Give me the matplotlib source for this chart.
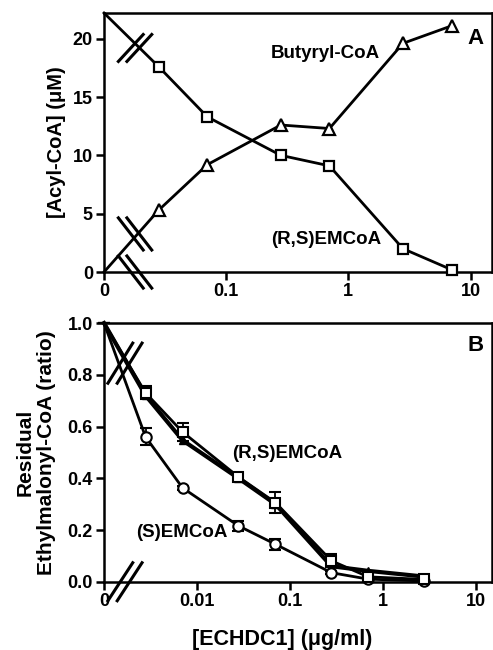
import matplotlib
matplotlib.use("Agg")
import matplotlib.pyplot as plt
import numpy as np

plt.rcParams['font.family'] = ['Liberation Sans', 'DejaVu Sans']
plt.rcParams['font.weight'] = 'bold'

# panel A: acyl-CoA vs ECHDC1 (0 plotted at 0.01)
a_x = [0.01, 0.028, 0.07, 0.28, 0.7, 2.8, 7.0]
a_emcoa = [22.2, 17.6, 13.3, 10.0, 9.1, 2.0, 0.2]
a_butyryl = [0.0, 5.3, 9.2, 12.6, 12.3, 19.6, 21.1]

# panel B: residual ethylmalonyl-CoA (0 plotted at 0.001)
b_x = [0.001, 0.0028, 0.007, 0.028, 0.07, 0.28, 0.7, 2.8]
b_rs_sq = [1.0, 0.73, 0.579, 0.405, 0.306, 0.081, 0.019, 0.009]
b_rs_sq_err = [0, 0.025, 0.035, 0.015, 0.042, 0.025, 0.005, 0.004]
b_rs_tri = [1.0, 0.72, 0.547, 0.40, 0.30, 0.06, 0.042, 0.02]
b_s = [1.0, 0.56, 0.363, 0.216, 0.145, 0.035, 0.01, 0.003]
b_s_err = [0, 0.033, 0.008, 0.02, 0.022, 0.006, 0.003, 0.002]

lw = 2.0
fs_ann = 13.5

def style(ax):
    for s in ax.spines.values():
        s.set_linewidth(1.8)
    ax.tick_params(direction='out', length=6, width=1.8, labelsize=13, pad=2)
    ax.minorticks_off()

def slashes(ax, cx, cy, dx, dy, sep=0.022):
    # pair of parallel break marks in axes fraction
    for off in (-sep / 2, sep / 2):
        ax.plot([cx + off - dx / 2, cx + off + dx / 2], [cy - dy / 2, cy + dy / 2],
                transform=ax.transAxes, color='black', lw=2.2, clip_on=False, zorder=5)

fig = plt.figure(figsize=(4.93, 6.5), dpi=100)
axA = fig.add_axes([0.211, 0.5815, 0.787, 0.3985])
axB = fig.add_axes([0.211, 0.105, 0.787, 0.398])

# ---- A
every_a = list(range(1, len(a_x)))
axA.plot(a_x, a_emcoa, color='black', lw=lw, marker='s', ms=7.5, mfc='white', mec='black', mew=1.6,
         clip_on=False, zorder=3, markevery=every_a)
axA.plot(a_x, a_butyryl, color='black', lw=lw, marker='^', ms=8, mfc='white', mec='black', mew=1.6,
         clip_on=False, zorder=3, markevery=every_a)
axA.set_xscale('log')
axA.set_xlim(0.01, 15)
axA.set_ylim(0, 22.2)
axA.set_xticks([0.01, 0.1, 1, 10])
axA.set_xticklabels(['0', '0.1', '1', '10'])
axA.set_yticks([0, 5, 10, 15, 20])
axA.set_ylabel('[Acyl-CoA] (\u03bcM)', fontsize=14.5, fontweight='bold')
axA.yaxis.set_label_coords(-0.099, 0.5)
style(axA)
axA.text(0.57, 0.845, 'Butyryl-CoA', transform=axA.transAxes, fontsize=fs_ann, fontweight='bold', ha='center', va='center')
axA.text(0.572, 0.124, '(R,S)EMCoA', transform=axA.transAxes, fontsize=fs_ann, fontweight='bold', ha='center', va='center')
axA.text(0.958, 0.90, 'A', transform=axA.transAxes, fontsize=16, fontweight='bold', ha='center', va='center')
slashes(axA, 0.08, 0.865, 0.064, 0.104)
slashes(axA, 0.08, 0.147, 0.064, -0.124)
slashes(axA, 0.08, 0.0, 0.064, -0.124)

# ---- B
every_b = list(range(1, len(b_x)))
axB.plot(b_x, b_rs_tri, color='black', lw=lw + 1, marker='^', ms=6, mfc='black', mec='black',
         clip_on=False, zorder=2, markevery=every_b)
axB.errorbar(b_x, b_rs_sq, yerr=b_rs_sq_err, color='black', lw=lw, marker='s', ms=7.5, mfc='white', mec='black', mew=1.5,
             ecolor='black', elinewidth=1.3, capsize=4, capthick=1.3, clip_on=False, zorder=3, markevery=every_b)
axB.errorbar(b_x, b_s, yerr=b_s_err, color='black', lw=lw, marker='o', ms=7.5, mfc='white', mec='black', mew=1.5,
             ecolor='black', elinewidth=1.3, capsize=4, capthick=1.3, clip_on=False, zorder=2.5, markevery=every_b)
axB.set_xscale('log')
axB.set_xlim(0.001, 15)
axB.set_ylim(0, 1.0)
axB.set_xticks([0.001, 0.01, 0.1, 1, 10])
axB.set_xticklabels(['0', '0.01', '0.1', '1', '10'])
axB.set_yticks([0.0, 0.2, 0.4, 0.6, 0.8, 1.0])
axB.set_yticklabels(['0.0', '0.2', '0.4', '0.6', '0.8', '1.0'])
axB.set_ylabel('Residual\nEthylmalonyl-CoA (ratio)', fontsize=15, fontweight='bold', linespacing=1.15)
axB.yaxis.set_label_coords(-0.125, 0.5)
axB.set_xlabel('[ECHDC1] (\u03bcg/ml)', fontsize=15.5, fontweight='bold')
axB.xaxis.set_label_coords(0.459, -0.182)
style(axB)
axB.text(0.958, 0.915, 'B', transform=axB.transAxes, fontsize=16, fontweight='bold', ha='center', va='center')
axB.text(0.473, 0.497, '(R,S)EMCoA', transform=axB.transAxes, fontsize=fs_ann, fontweight='bold', ha='center', va='center')
axB.text(0.2, 0.19, '(S)EMCoA', transform=axB.transAxes, fontsize=fs_ann, fontweight='bold', ha='center', va='center')
slashes(axB, 0.054, 0.845, 0.064, 0.155, sep=0.024)
slashes(axB, 0.054, 0.0, 0.064, 0.147, sep=0.024)

fig.savefig('out.png', dpi=100)
